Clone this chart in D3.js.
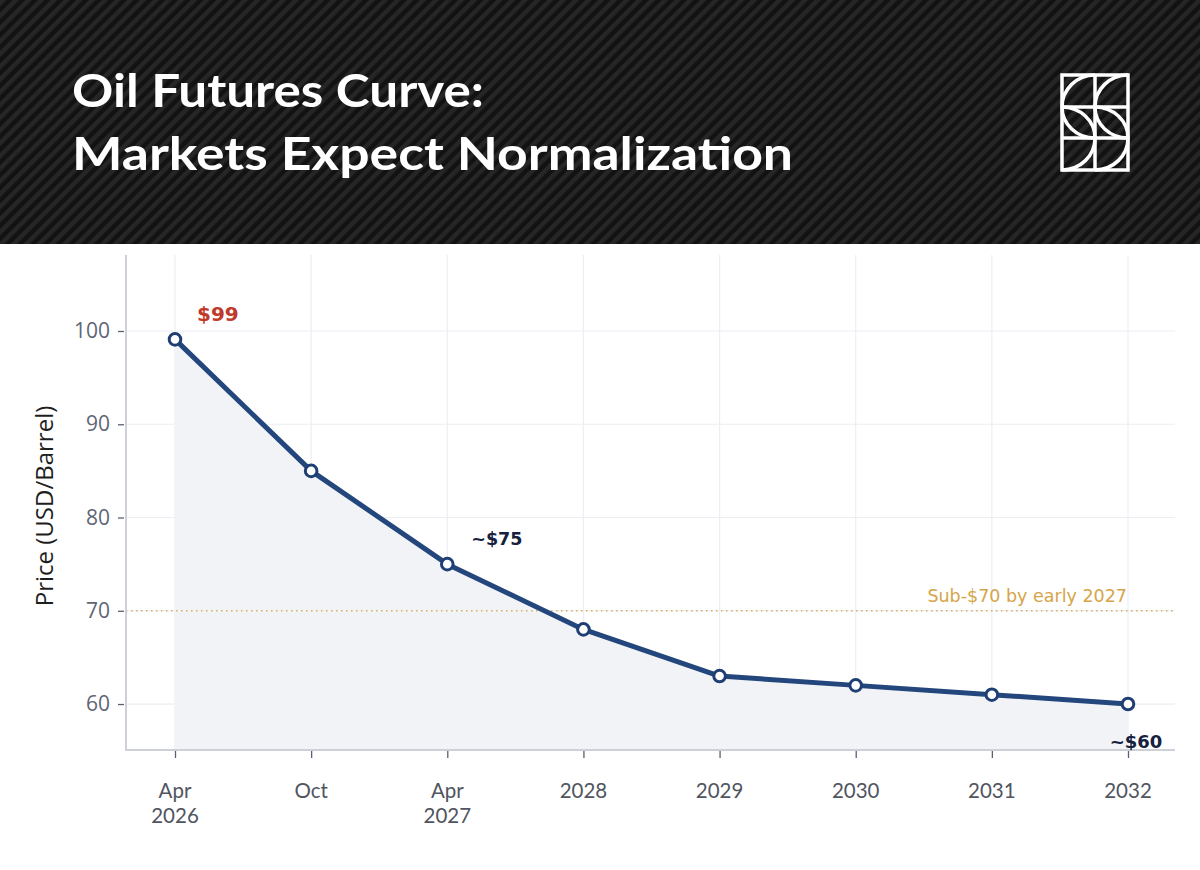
<!DOCTYPE html>
<html><head><meta charset="utf-8">
<script src="https://cdn.jsdelivr.net/npm/d3@7"></script>
<style>body{margin:0;background:#fff}svg{display:block}</style>
</head><body>
<svg id="c" width="1200" height="870"></svg>
<script>
const categories = ["Apr\n2026","Oct","Apr\n2027","2028","2029","2030","2031","2032"];
const prices = [99.1, 85, 75, 68, 63, 62, 61, 60];
const yTicks = [60, 70, 80, 90, 100];
const refValue = 70;
const refLabel = "Sub-$70 by early 2027";
const annotations = [
  {i:0, text:"$99", color:"#c0392b", dx:22, dy:-18, anchor:"start", size:20},
  {i:2, text:"~$75", color:"#16213d", dx:24, dy:-19, anchor:"start", size:17.5},
  {i:7, text:"~$60", color:"#16213d", dx:8, dy:44, anchor:"middle", size:18}
];
const titleLines = ["Oil Futures Curve:", "Markets Expect Normalization"];

(function(){
const svg = d3.select("#c");
const W = 1200;
const defs = svg.append("defs");
const pat = defs.append("pattern").attr("id","stripes").attr("patternUnits","userSpaceOnUse")
  .attr("width",9).attr("height",9).attr("patternTransform","rotate(45)");
pat.append("rect").attr("width",9).attr("height",9).attr("fill","#121212");
pat.append("rect").attr("width",4.5).attr("height",9).attr("fill","#262626");
svg.append("rect").attr("x",0).attr("y",0).attr("width",W).attr("height",244).attr("fill","url(#stripes)");
const titleLens = [412, 721];
svg.append("g").selectAll("text").data(titleLines).join("text")
  .attr("x",72).attr("y",(d,i)=>107+i*63)
  .attr("textLength",(d,i)=>titleLens[i]).attr("lengthAdjust","spacingAndGlyphs")
  .attr("fill","#fff").attr("font-family","Lato, Inter, sans-serif").attr("font-weight",700)
  .attr("font-size",46).text(d=>d);

// logo
const lg = svg.append("g").attr("transform","translate(1062,75)").attr("fill","none").attr("stroke","#fff").attr("stroke-width",3.5);
lg.append("rect").attr("x",0).attr("y",0).attr("width",66).attr("height",95);
lg.append("line").attr("x1",33).attr("y1",0).attr("x2",33).attr("y2",95);
lg.append("line").attr("x1",0).attr("y1",32).attr("x2",66).attr("y2",32);
lg.append("line").attr("x1",0).attr("y1",63).attr("x2",66).attr("y2",63);
[0,33].forEach(ox=>{
  lg.append("path").attr("d",`M${ox+33},0 A33,32 0 0 0 ${ox},32`);
  lg.append("path").attr("d",`M${ox},32 A33,31 0 0 0 ${ox+33},63`);
  lg.append("path").attr("d",`M${ox},32 A33,31 0 0 1 ${ox+33},63`);
  lg.append("path").attr("d",`M${ox+33},63 A33,32 0 0 1 ${ox},95`);
});

// chart
const pL = 126, pR = 1175, pT = 255, pB = 750;
const x = d3.scalePoint().domain(d3.range(categories.length)).range([175,1128]);
const y = d3.scaleLinear().domain([55.07, 108.15]).range([pB, pT]);

const g = svg.append("g");
g.selectAll(".vg").data(d3.range(categories.length)).join("line")
  .attr("x1",d=>x(d)).attr("x2",d=>x(d)).attr("y1",pT).attr("y2",pB)
  .attr("stroke","#eceef3").attr("stroke-width",1.2);
g.selectAll(".hg").data(yTicks).join("line")
  .attr("x1",pL).attr("x2",pR).attr("y1",d=>y(d)).attr("y2",d=>y(d))
  .attr("stroke","#eceef3").attr("stroke-width",1.2);

const area = d3.area().x((d,i)=>x(i)).y0(pB).y1(d=>y(d));
g.append("path").datum(prices).attr("d",area).attr("fill","#f1f3f7");

g.append("line").attr("x1",pL).attr("x2",pR).attr("y1",y(refValue)).attr("y2",y(refValue))
  .attr("stroke","#d8ad5c").attr("stroke-width",1.5).attr("stroke-dasharray","1.5,3.5");
g.append("text").attr("x",1127).attr("y",y(refValue)-9).attr("text-anchor","end")
  .attr("fill","#d5a548").attr("font-family","DejaVu Sans, sans-serif").attr("font-size",17.5).text(refLabel);

const yAxis = d3.axisLeft(y).tickValues(yTicks).tickSize(6).tickPadding(8);
const ya = g.append("g").attr("transform",`translate(${pL-2},0)`).call(yAxis);
ya.select(".domain").remove();
ya.selectAll(".tick line").attr("stroke","#5a6070").attr("stroke-width",1.3);
ya.selectAll(".tick text").attr("fill","#5f6576").attr("font-family","Open Sans, sans-serif").attr("font-size",21);
g.append("line").attr("x1",pL).attr("x2",pL).attr("y1",pT).attr("y2",pB+1).attr("stroke","#cdd0d9").attr("stroke-width",2);
g.append("line").attr("x1",pL).attr("x2",pR).attr("y1",pB).attr("y2",pB).attr("stroke","#cdd0d9").attr("stroke-width",2);

const xAxis = d3.axisBottom(x).tickSize(7).tickFormat("");
const xa = g.append("g").attr("transform",`translate(0,${pB+1})`).call(xAxis);
xa.select(".domain").remove();
xa.selectAll(".tick line").attr("stroke","#5a6070").attr("stroke-width",1.3);
const xl = g.append("g").selectAll("text").data(categories).join("text")
  .attr("x",(d,i)=>x(i)).attr("y",798).attr("text-anchor","middle")
  .attr("fill","#50555f").attr("font-family","Lato, sans-serif").attr("font-weight",400).attr("font-size",20.5);
xl.each(function(d){
  const t = d3.select(this);
  d.split("\n").forEach((s,k)=>t.append("tspan").attr("x",t.attr("x")).attr("dy",k?25:0).text(s));
});

g.append("text").attr("transform",`translate(53,${506}) rotate(-90)`)
  .attr("text-anchor","middle").attr("fill","#1e1e1e").attr("font-family","Open Sans, sans-serif")
  .attr("font-size",24).text("Price (USD/Barrel)");

const line = d3.line().x((d,i)=>x(i)).y(d=>y(d));
g.append("path").datum(prices).attr("d",line).attr("fill","none").attr("stroke","#23467c")
  .attr("stroke-width",5).attr("stroke-linejoin","round");
g.selectAll(".pt").data(prices).join("circle")
  .attr("cx",(d,i)=>x(i)).attr("cy",d=>y(d)).attr("r",5.8)
  .attr("fill","#fff").attr("stroke","#1f3f74").attr("stroke-width",3);

g.selectAll(".ann").data(annotations).join("text")
  .attr("x",d=>x(d.i)+d.dx).attr("y",d=>y(prices[d.i])+d.dy)
  .attr("text-anchor",d=>d.anchor).attr("fill",d=>d.color)
  .attr("font-family","DejaVu Sans, sans-serif").attr("font-weight",700)
  .attr("font-size",d=>d.size).text(d=>d.text);
})();
</script>
</body></html>
